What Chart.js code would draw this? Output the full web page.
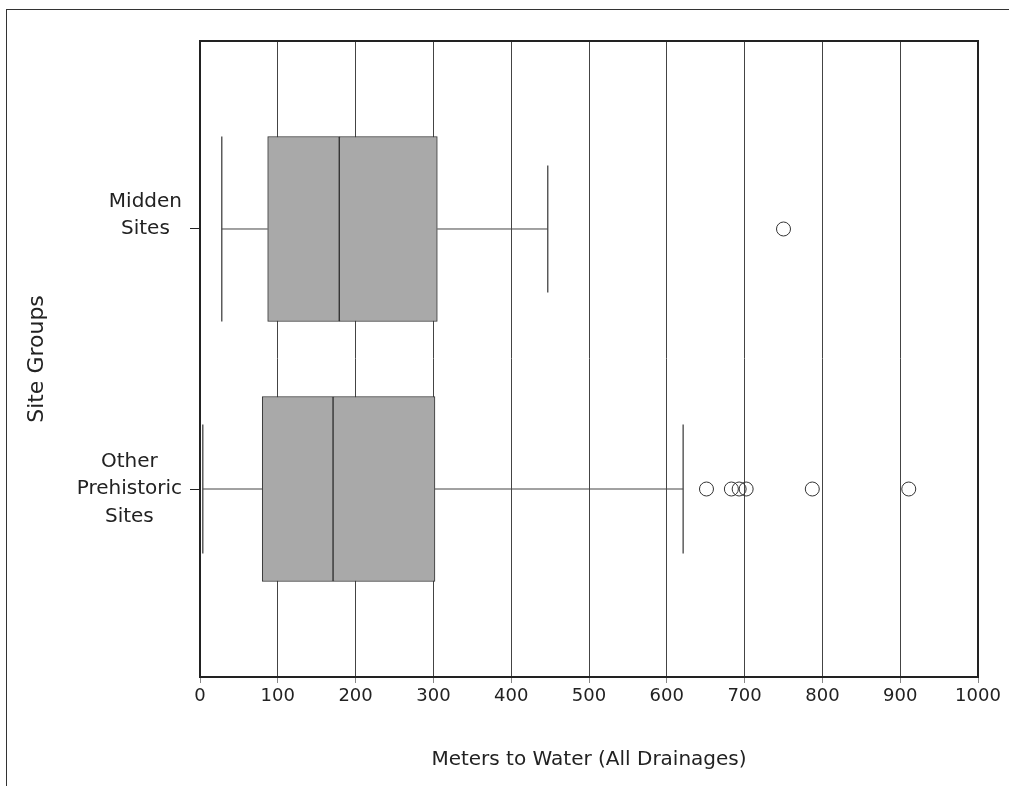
<!DOCTYPE html>
<html>
<head>
<meta charset="utf-8">
<script src="https://cdn.jsdelivr.net/npm/chart.js@4/dist/chart.umd.min.js"></script>
<style>
  html, body { margin: 0; padding: 0; background: #fff; }
  #wrap { position: relative; width: 1009px; height: 786px; overflow: hidden; }
  #frame { position: absolute; left: 6px; top: 9px; right: -2px; bottom: -2px;
           border-top: 1px solid #333; border-left: 1px solid #333; }
  canvas { position: absolute; left: 0; top: 0; }
</style>
</head>
<body>
<div id="wrap">
  <div id="frame"></div>
  <canvas id="c" width="1009" height="786"></canvas>
</div>
<script>
// ---- data ----
const categories = [["Midden", "Sites"], ["Other", "Prehistoric", "Sites"]];
const lowerWhisker = [28, 3.6];
const q1 = [87, 80];
const median = [179, 171];
const q3 = [305, 302];
const upperWhisker = [447, 621];
const outlierValues = [[750], [651, 683, 693, 702, 787, 911]];
const xTickValues = [0, 100, 200, 300, 400, 500, 600, 700, 800, 900, 1000];
const xTitle = "Meters to Water (All Drainages)";
const yTitle = "Site Groups";

// ---- styles ----
const FONT = '"DejaVu Sans", sans-serif';
const INK = '#222';
const boxFill = '#a9a9a9';
const boxLine = '#333';
const whiskerColor = '#444';
const capHalf = [[92.5, 63.5], [64.5, 64.5]]; // half-length of lower/upper caps (px)

const datasets = [];
// box halves
datasets.push({
  type: 'bar', indexAxis: 'y', grouped: false, barThickness: 185,
  backgroundColor: boxFill, borderColor: boxLine, borderWidth: 1, borderSkipped: false,
  data: categories.map((c, i) => ({ x: [q1[i], median[i]], y: i }))
});
datasets.push({
  type: 'bar', indexAxis: 'y', grouped: false, barThickness: 185,
  backgroundColor: boxFill, borderColor: boxLine, borderWidth: 1, borderSkipped: false,
  data: categories.map((c, i) => ({ x: [median[i], q3[i]], y: i }))
});
// whisker lines and caps
categories.forEach((c, i) => {
  datasets.push({
    type: 'scatter', showLine: true, borderColor: whiskerColor, borderWidth: 1, pointRadius: 0,
    data: [{ x: lowerWhisker[i], y: i }, { x: q1[i], y: i }]
  });
  datasets.push({
    type: 'scatter', showLine: true, borderColor: whiskerColor, borderWidth: 1, pointRadius: 0,
    data: [{ x: q3[i], y: i }, { x: upperWhisker[i], y: i }]
  });
  datasets.push({
    type: 'scatter', pointStyle: 'line', rotation: 90,
    pointRadius: capHalf[i], pointBorderColor: whiskerColor, pointBorderWidth: 1.3,
    borderColor: whiskerColor,
    data: [{ x: lowerWhisker[i], y: i }, { x: upperWhisker[i], y: i }]
  });
});
// outliers
datasets.push({
  type: 'scatter', pointStyle: 'circle', pointRadius: 7,
  pointBackgroundColor: 'rgba(0,0,0,0)', pointBorderColor: '#333', pointBorderWidth: 1,
  data: outlierValues.flatMap((vals, i) => vals.map(v => ({ x: v, y: i })))
});

const labelRight = 182;
const frameAndLabels = {
  id: 'frameAndLabels',
  afterDraw(chart) {
    const { ctx, chartArea: a, scales: { y } } = chart;
    ctx.save();
    ctx.strokeStyle = INK; ctx.lineWidth = 2;
    ctx.beginPath();
    ctx.moveTo(a.left, a.top); ctx.lineTo(a.right, a.top); ctx.lineTo(a.right, a.bottom);
    ctx.stroke();
    ctx.font = '20px ' + FONT;
    ctx.fillStyle = INK; ctx.textAlign = 'center'; ctx.textBaseline = 'middle';
    categories.forEach((lines, i) => {
      const py = y.getPixelForValue(i);
      const widest = Math.max(...lines.map(l => ctx.measureText(l).width));
      const cx = labelRight - widest / 2;
      const mid = Math.floor(lines.length / 2);
      lines.forEach((l, k) => ctx.fillText(l, cx, py + (k - mid) * 27.5));
    });
    ctx.restore();
  }
};

new Chart(document.getElementById('c'), {
  type: 'bar',
  data: { datasets },
  plugins: [frameAndLabels],
  options: {
    indexAxis: 'y',
    responsive: false, animation: false, devicePixelRatio: 1,
    layout: { autoPadding: false, padding: { top: 41, right: 31, bottom: 0, left: 0 } },
    plugins: { legend: { display: false }, tooltip: { enabled: false } },
    scales: {
      x: {
        type: 'linear', position: 'bottom', min: 0, max: 1000, offset: false,
        afterBuildTicks: s => { s.ticks = xTickValues.map(v => ({ value: v })); },
        afterFit: s => { s.height = 109; },
        ticks: { color: INK, font: { family: FONT, size: 18 }, padding: 3, maxRotation: 0,
                 callback: v => String(v) },
        grid: { color: '#444', lineWidth: 1, drawTicks: true, tickLength: 6, tickColor: '#888', offset: false },
        border: { display: true, color: INK, width: 2 },
        title: { display: true, text: xTitle, color: INK,
                 font: { family: FONT, size: 20 }, padding: { top: 0, bottom: 14 } }
      },
      y: {
        type: 'linear', position: 'left', reverse: true, min: -0.723, max: 1.723, offset: false,
        afterBuildTicks: s => { s.ticks = categories.map((c, i) => ({ value: i })); },
        afterFit: s => { s.width = 200; },
        ticks: { display: false },
        grid: { drawOnChartArea: false, drawTicks: true, tickLength: 10, color: INK, offset: false },
        border: { display: true, color: INK, width: 2 },
        title: { display: true, text: yTitle, color: INK,
                 font: { family: FONT, size: 22 }, padding: { top: 24, bottom: 0 } }
      }
    }
  }
});
</script>
</body>
</html>
